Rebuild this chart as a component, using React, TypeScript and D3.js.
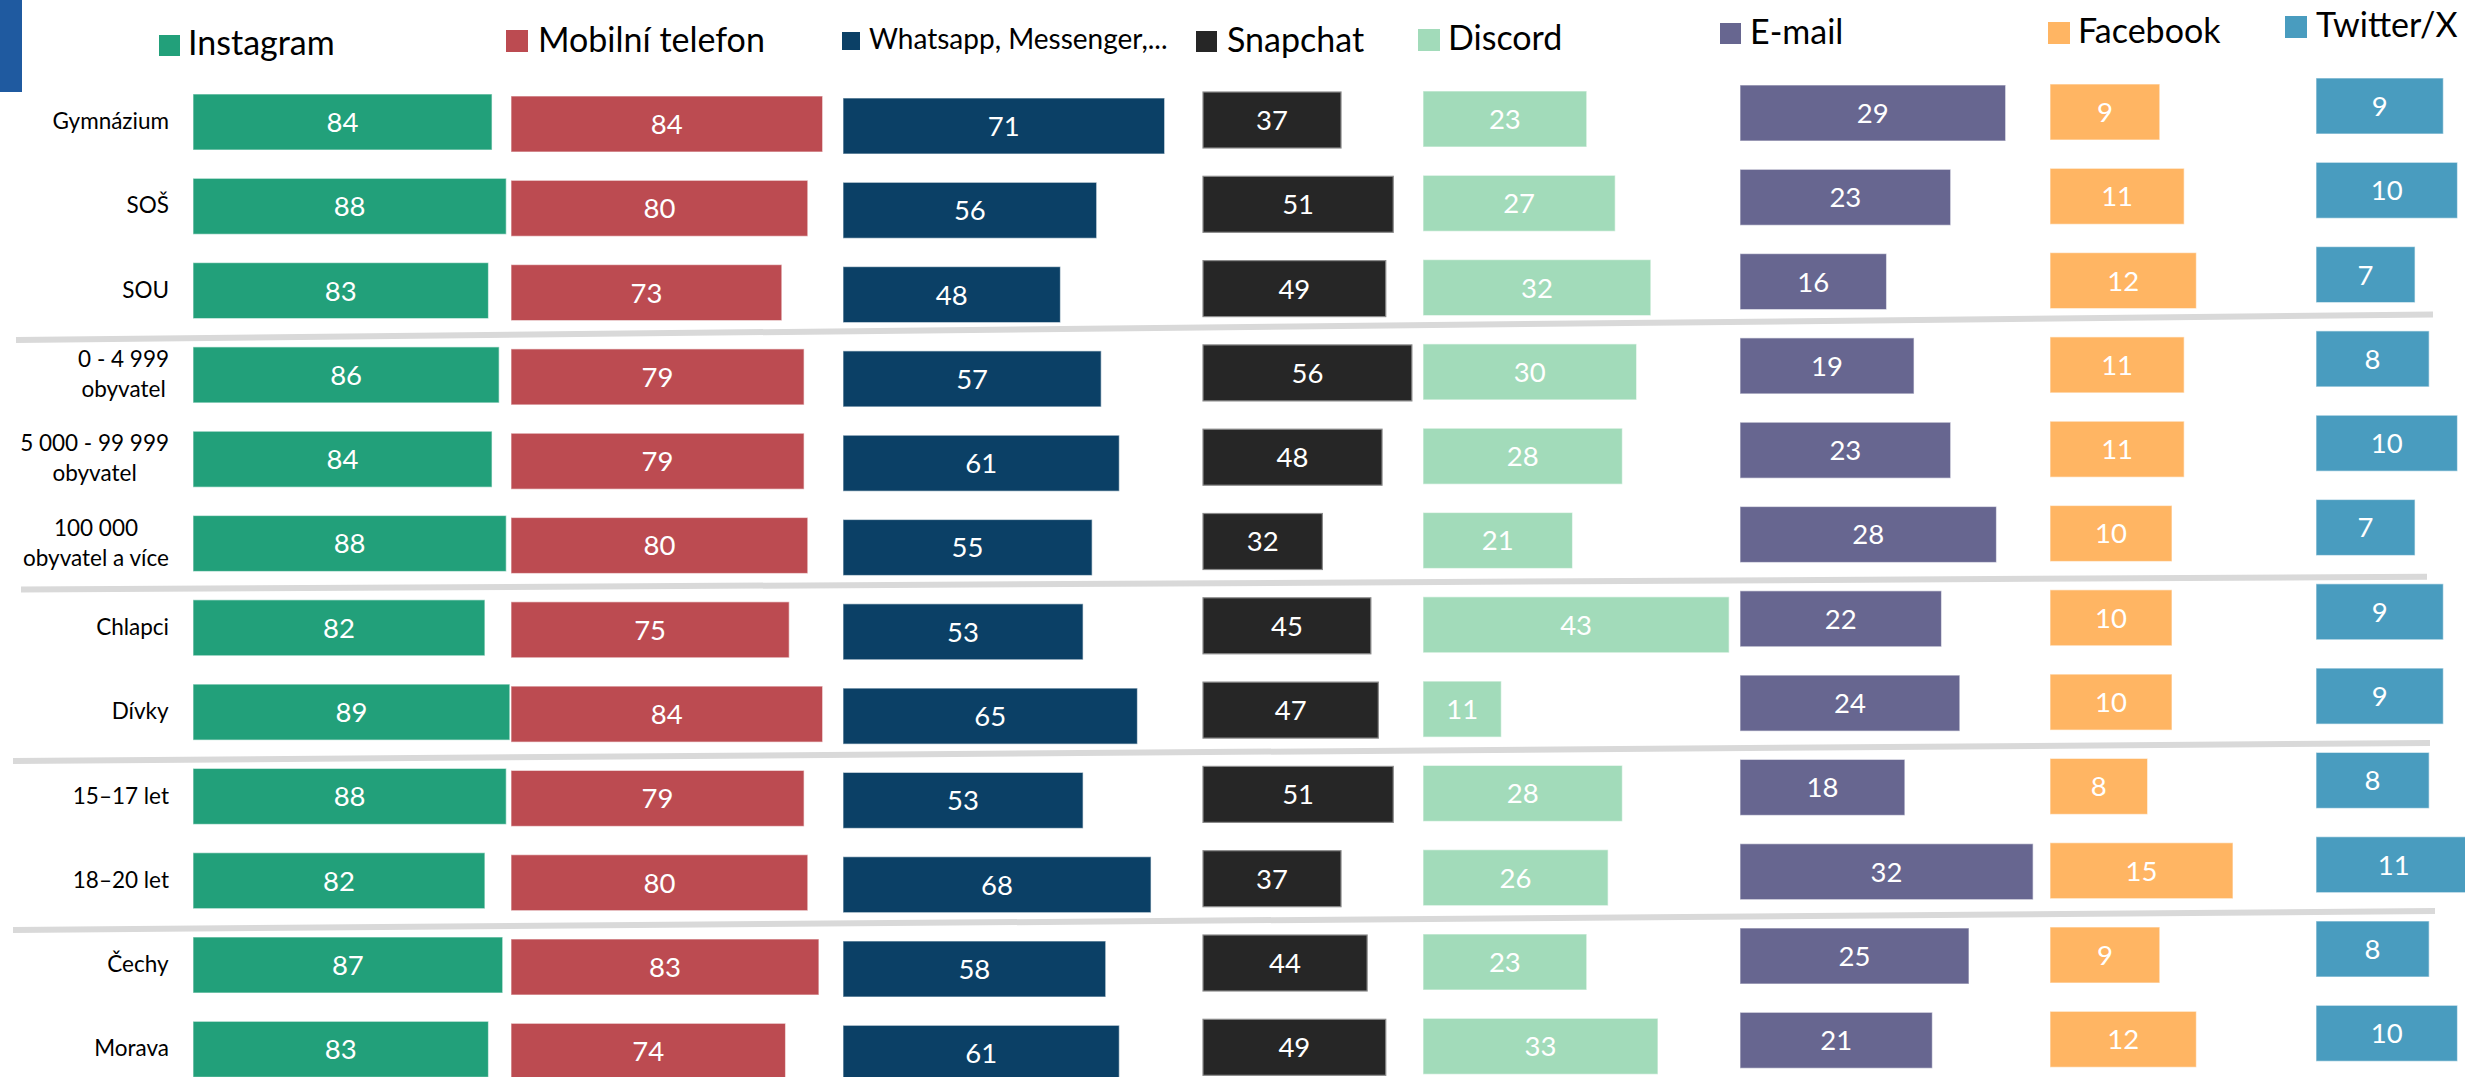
import React, { useEffect, useRef } from "react";
import * as d3 from "d3";

const categories = [
  ["Gymnázium"],
  ["SOŠ"],
  ["SOU"],
  ["0 - 4 999", "obyvatel"],
  ["5 000 - 99 999", "obyvatel"],
  ["100 000", "obyvatel a více"],
  ["Chlapci"],
  ["Dívky"],
  ["15–17 let"],
  ["18–20 let"],
  ["Čechy"],
  ["Morava"],
];

const seriesNames = [
  "Instagram",
  "Mobilní telefon",
  "Whatsapp, Messenger,...",
  "Snapchat",
  "Discord",
  "E-mail",
  "Facebook",
  "Twitter/X",
];

const instagram = [84, 88, 83, 86, 84, 88, 82, 89, 88, 82, 87, 83];
const mobil = [84, 80, 73, 79, 79, 80, 75, 84, 79, 80, 83, 74];
const whatsapp = [71, 56, 48, 57, 61, 55, 53, 65, 53, 68, 58, 61];
const snapchat = [37, 51, 49, 56, 48, 32, 45, 47, 51, 37, 44, 49];
const discord = [23, 27, 32, 30, 28, 21, 43, 11, 28, 26, 23, 33];
const email = [29, 23, 16, 19, 23, 28, 22, 24, 18, 32, 25, 21];
const facebook = [9, 11, 12, 11, 11, 10, 10, 10, 8, 15, 9, 12];
const twitter = [9, 10, 7, 8, 10, 7, 9, 9, 8, 11, 8, 10];

const seriesValues = [instagram, mobil, whatsapp, snapchat, discord, email, facebook, twitter];

const colors = ["#22A07A", "#BC4B51", "#0B4066", "#262626", "#A2DBBA", "#676690", "#FFB563", "#499CBF"];

// layout of each panel column: x start, px per unit, first bar top
const panels = [
  { x0: 193, ppu: 3.56, top0: 94 },
  { x0: 511, ppu: 3.71, top0: 96 },
  { x0: 843, ppu: 4.53, top0: 98 },
  { x0: 1203, ppu: 3.73, top0: 92 },
  { x0: 1423, ppu: 7.12, top0: 91 },
  { x0: 1740, ppu: 9.16, top0: 85 },
  { x0: 2050, ppu: 12.2, top0: 84 },
  { x0: 2316, ppu: 14.15, top0: 78 },
];

// legend layout
const legendLayout = [
  { sx: 159, sy: 35, s: 21, tx: 188, ty: 55, fs: 34 },
  { sx: 506, sy: 30, s: 22, tx: 538, ty: 52, fs: 34 },
  { sx: 842, sy: 32, s: 18, tx: 869, ty: 49, fs: 28 },
  { sx: 1196, sy: 31, s: 21, tx: 1227, ty: 52, fs: 34 },
  { sx: 1418, sy: 29, s: 22, tx: 1448, ty: 50, fs: 34 },
  { sx: 1720, sy: 23, s: 21, tx: 1750, ty: 44, fs: 34 },
  { sx: 2048, sy: 22, s: 22, tx: 2078, ty: 43, fs: 34 },
  { sx: 2285, sy: 16, s: 22, tx: 2316, ty: 37, fs: 34 },
];

// separator lines (left point, right point)
const separators = [
  [[16, 340], [2433, 314.5]],
  [[21, 589.6], [2427, 576.7]],
  [[13, 761], [2430, 743]],
  [[13, 930], [2435, 911]],
];

const W = 2465;
const H = 1077;
const STEP = 84.3;
const BAR_H = 56;
const FONT = "Lato, 'Open Sans', sans-serif";

export default function App() {
  const ref = useRef<SVGSVGElement | null>(null);

  useEffect(() => {
    const svg = d3.select(ref.current);
    svg.selectAll("*").remove();

    svg.append("rect").attr("x", 0).attr("y", 0).attr("width", W).attr("height", H).attr("fill", "#ffffff");

    // blue corner mark
    svg.append("rect").attr("x", 0).attr("y", 0).attr("width", 22).attr("height", 92).attr("fill", "#1F5AA0");

    // separators
    svg
      .selectAll("line.sep")
      .data(separators)
      .enter()
      .append("line")
      .attr("x1", (d) => d[0][0])
      .attr("y1", (d) => d[0][1])
      .attr("x2", (d) => d[1][0])
      .attr("y2", (d) => d[1][1])
      .attr("stroke", "#D9D9D9")
      .attr("stroke-width", 6);

    // legend
    const lg = svg.append("g");
    seriesNames.forEach((name, i) => {
      const L = legendLayout[i];
      lg.append("rect").attr("x", L.sx).attr("y", L.sy).attr("width", L.s).attr("height", L.s).attr("fill", colors[i]);
      lg.append("text")
        .attr("x", L.tx)
        .attr("y", L.ty)
        .attr("font-family", FONT)
        .attr("font-size", L.fs)
        .attr("fill", "#000")
        .text(name);
    });

    // bars
    seriesValues.forEach((vals, si) => {
      const P = panels[si];
      const x = d3.scaleLinear().domain([0, 100]).range([P.x0, P.x0 + 100 * P.ppu]);
      const y = d3.scaleLinear().domain([0, 1]).range([P.top0, P.top0 + STEP]);
      const g = svg.append("g");
      g.selectAll("rect")
        .data(vals)
        .enter()
        .append("rect")
        .attr("x", x(0))
        .attr("y", (_d, i) => y(i))
        .attr("width", (d) => x(d) - x(0))
        .attr("height", BAR_H)
        .attr("fill", colors[si])
        .attr("stroke", si === 3 ? "#8a8a8a" : "rgba(255,255,255,0.55)")
        .attr("stroke-width", 1.2);
      g.selectAll("text")
        .data(vals)
        .enter()
        .append("text")
        .attr("x", (d) => (x(0) + x(d)) / 2)
        .attr("y", (_d, i) => y(i) + BAR_H / 2)
        .attr("dy", "0.36em")
        .attr("text-anchor", "middle")
        .attr("font-family", FONT)
        .attr("font-size", 27.5)
        .attr("fill", "#ffffff")
        .text((d) => String(d));
    });

    // row labels (centered blocks, right-aligned to x=169)
    const yRow = d3.scaleLinear().domain([0, 1]).range([panels[0].top0 + BAR_H / 2, panels[0].top0 + BAR_H / 2 + STEP]);
    categories.forEach((lines, i) => {
      const g = svg.append("g");
      const cy = yRow(i) - 1;
      const lh = 30;
      lines.forEach((ln, k) => {
        g.append("text")
          .attr("x", 0)
          .attr("y", cy + (k - (lines.length - 1) / 2) * lh)
          .attr("dy", "0.36em")
          .attr("text-anchor", "middle")
          .attr("font-family", FONT)
          .attr("font-size", 22.5)
          .attr("fill", "#000")
          .text(ln);
      });
      const node = g.node() as SVGGElement;
      const bb = node.getBBox();
      const right = 169;
      g.attr("transform", `translate(${right - (bb.x + bb.width)},0)`);
    });
  }, []);

  return (
    <svg
      ref={ref}
      width={W}
      height={H}
      style={{ position: "absolute", left: 0, top: 0, display: "block" }}
    />
  );
}
